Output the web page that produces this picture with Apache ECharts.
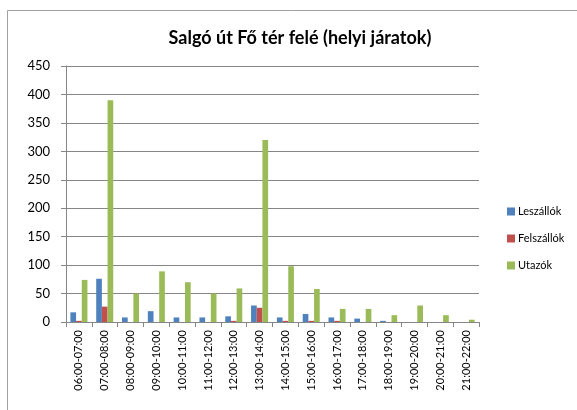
<!DOCTYPE html>
<html>
<head>
<meta charset="utf-8">
<script src="https://cdn.jsdelivr.net/npm/echarts@6/dist/echarts.min.js"></script>
<style>html,body{margin:0;padding:0;background:#fff;}#c{width:577px;height:410px;}</style>
</head>
<body>
<div id="c"></div>
<script>
const categories = ['06:00-07:00','07:00-08:00','08:00-09:00','09:00-10:00','10:00-11:00','11:00-12:00','12:00-13:00','13:00-14:00','14:00-15:00','15:00-16:00','16:00-17:00','17:00-18:00','18:00-19:00','19:00-20:00','20:00-21:00','21:00-22:00'];
const leszallok = [17, 76, 8, 19, 8, 8, 10, 29, 8, 14, 8, 6, 2, 0, 0, 0];
const felszallok = [2, 27, 0, 0, 0, 0, 2, 25, 2, 2, 2, 0, 0, 0, 0, 0];
const utazok = [74, 390, 50, 89, 70, 50, 59, 320, 98, 58, 23, 23, 12, 29, 12, 4];
const yTicks = [0, 50, 100, 150, 200, 250, 300, 350, 400, 450];

const chart = echarts.init(document.getElementById('c'), null, {renderer: 'canvas'});
const font = 'Lato, "Liberation Sans", sans-serif';
chart.setOption({
  backgroundColor: '#fff',
  animation: false,
  textStyle: {fontFamily: font},
  title: {
    text: 'Salgó út Fő tér felé (helyi járatok)',
    left: 295, top: 24, textAlign: 'center',
    textStyle: {fontFamily: font, fontSize: 18, fontWeight: 'bold', color: '#000'}
  },
  graphic: [{
    type: 'rect', shape: {x: 7.5, y: 10.5, width: 600, height: 420},
    style: {fill: 'none', stroke: '#a0a0a0', lineWidth: 1}, silent: true
  }],
  legend: {
    orient: 'vertical', left: 502, top: 201,
    itemWidth: 8, itemHeight: 8, itemGap: 16,
    icon: 'rect',
    textStyle: {fontFamily: font, fontSize: 11, color: '#000', padding: [0, 0, 0, -2]},
    data: ['Leszállók', 'Felszállók', 'Utazók']
  },
  grid: {left: 66, right: 98, top: 66, bottom: 88, containLabel: false},
  xAxis: {
    type: 'category', data: categories,
    axisLine: {lineStyle: {color: '#868686'}},
    axisTick: {show: true, alignWithLabel: false, length: 5, lineStyle: {color: '#868686'}},
    axisLabel: {rotate: 90, fontSize: 11, color: '#000', margin: 8, interval: 0, fontFamily: font}
  },
  yAxis: {
    type: 'value', min: 0, max: 450, interval: 50,
    axisLine: {show: true, lineStyle: {color: '#868686'}},
    axisTick: {show: true, length: 5, lineStyle: {color: '#868686'}},
    axisLabel: {fontSize: 13, color: '#000', margin: 16, fontFamily: font,
      formatter: v => yTicks.includes(v) ? String(v) : ''},
    splitLine: {lineStyle: {color: '#868686', width: 1}}
  },
  series: [
    {name: 'Leszállók', type: 'bar', data: leszallok, barGap: '0%', barCategoryGap: '34%',
      itemStyle: {color: '#4f81bd'}},
    {name: 'Felszállók', type: 'bar', data: felszallok, barGap: '0%', barCategoryGap: '34%',
      itemStyle: {color: '#c0504d'}},
    {name: 'Utazók', type: 'bar', data: utazok, barGap: '0%', barCategoryGap: '34%',
      itemStyle: {color: '#9bbb59'}}
  ]
});
</script>
</body>
</html>
